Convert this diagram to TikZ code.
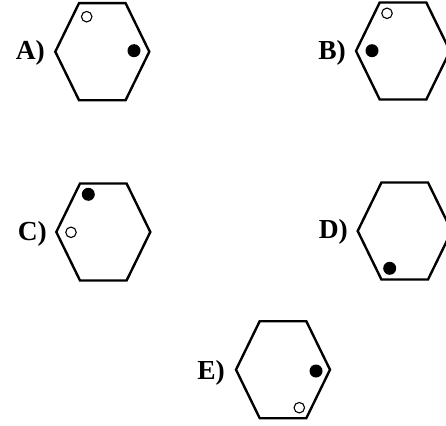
\documentclass[tikz,border=0pt]{standalone}
\usepackage{fontspec}
\setmainfont{Liberation Serif}
\tikzset{
  hexline/.style={line width=2.4pt, line join=miter},
  opendot/.style={circle, draw, line width=1.1pt, fill=white, inner sep=0pt, minimum size=10.5pt},
  filldot/.style={circle, fill=black, inner sep=0pt, minimum size=13pt},
  lbl/.style={anchor=base east, font=\bfseries\fontsize{27.5}{27.5}\selectfont, inner sep=0pt}
}
\newcommand{\hexa}[2]{%
  \draw[hexline] (#1-23.3,#2-48.5) -- (#1+23.3,#2-48.5) -- (#1+47,#2) -- (#1+23.3,#2+48.5) -- (#1-23.3,#2+48.5) -- (#1-47,#2) -- cycle;}
\begin{document}
\begin{tikzpicture}[x=1pt,y=-1pt]
\useasboundingbox (0,0) rectangle (446,425);
% A
\hexa{102.3}{51.7}
\node[lbl] (la) at (45,60) {A)};
\node[opendot] (a1) at (86.7,16.7) {};
\node[filldot] (a2) at (134,50.7) {};
% B
\hexa{403}{51}
\node[lbl] (lb) at (346,60) {B)};
\node[opendot] (b1) at (387,13.3) {};
\node[filldot] (b2) at (372,50.7) {};
% C
\hexa{103.3}{232}
\node[lbl] (lc) at (47,240) {C)};
\node[filldot] (c1) at (88.3,194.3) {};
\node[opendot] (c2) at (71,232.3) {};
% D
\hexa{404.7}{231}
\node[lbl] (ld) at (348,238.5) {D)};
\node[filldot] (d1) at (389.7,268.3) {};
% E
\hexa{283}{369.7}
\node[lbl] (le) at (225,379) {E)};
\node[filldot] (e1) at (316,371) {};
\node[opendot] (e2) at (299.3,407.7) {};
\end{tikzpicture}
\end{document}
